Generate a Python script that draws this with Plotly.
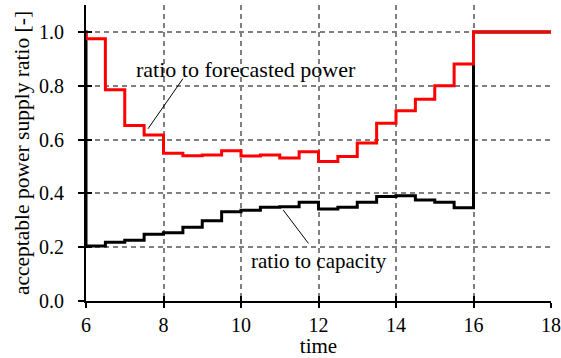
import plotly.graph_objects as go

# time in hours (half-hour steps); 5.5 holds the value before the period
time = [5.5, 6, 6.5, 7, 7.5, 8, 8.5, 9, 9.5, 10, 10.5, 11, 11.5, 12, 12.5,
        13, 13.5, 14, 14.5, 15, 15.5, 16, 18]
ratio_forecast = [1.0, 0.975, 0.785, 0.652, 0.617, 0.549, 0.540, 0.543, 0.558,
                  0.539, 0.543, 0.531, 0.555, 0.518, 0.537, 0.587, 0.661,
                  0.707, 0.750, 0.800, 0.881, 1.0, 1.0]
ratio_capacity = [1.0, 0.204, 0.218, 0.226, 0.248, 0.254, 0.274, 0.298, 0.332,
                  0.337, 0.348, 0.350, 0.367, 0.342, 0.348, 0.367, 0.388,
                  0.391, 0.375, 0.367, 0.347, 1.0, 1.0]
x_ticks = [6, 8, 10, 12, 14, 16, 18]
y_ticks = [0.0, 0.2, 0.4, 0.6, 0.8, 1.0]

FONT = "Liberation Serif"
tickfont = dict(family=FONT, size=20, color="black")
NB = "\u00a0\u00a0"  # pushes y tick labels away from the axis

fig = go.Figure()
fig.add_trace(go.Scatter(x=time, y=ratio_capacity, mode="lines",
                         line=dict(color="black", width=3, shape="hv"),
                         showlegend=False, cliponaxis=True))
fig.add_trace(go.Scatter(x=time, y=ratio_forecast, mode="lines",
                         line=dict(color="#ff0000", width=3, shape="hv"),
                         showlegend=False, cliponaxis=True))

grid = dict(showgrid=True, gridcolor="#808080", gridwidth=1.5, griddash="5px,4px")

fig.update_layout(
    width=561, height=358,
    margin=dict(l=86, r=10, t=5, b=57, autoexpand=False),
    paper_bgcolor="white", plot_bgcolor="white",
    font=dict(family=FONT, size=20, color="black"),
    xaxis=dict(range=[6, 18], tickvals=x_ticks, ticktext=[str(v) for v in x_ticks],
               showline=True, linecolor="black", linewidth=2, automargin=False,
               ticks="outside", ticklen=5, tickwidth=2, tickcolor="black",
               tickfont=tickfont, zeroline=False, **grid,
               title=dict(text="time", font=dict(family=FONT, size=21), standoff=2)),
    yaxis=dict(range=[0, 1.1], tickvals=y_ticks, ticktext=[f"{v:.1f}" + NB for v in y_ticks],
               showline=True, linecolor="black", linewidth=2, automargin=False,
               ticks="outside", ticklen=6, tickwidth=2, tickcolor="black",
               tickfont=tickfont, zeroline=False, **grid,
               title=dict(text="acceptable power supply ratio [-]",
                          font=dict(family=FONT, size=21.5), standoff=3)),
    xaxis2=dict(range=[6, 18], tickvals=x_ticks, overlaying="x", side="bottom",
                showticklabels=False, ticks="inside", ticklen=5, tickwidth=2, automargin=False,
                tickcolor="black", showgrid=False, zeroline=False, showline=False),
    yaxis2=dict(range=[0, 1.1], tickvals=y_ticks, overlaying="y", side="left",
                showticklabels=False, ticks="inside", ticklen=6, tickwidth=2, automargin=False,
                tickcolor="black", showgrid=False, zeroline=False, showline=False),
)
fig.add_trace(go.Scatter(x=[6], y=[0], xaxis="x2", yaxis="y2", mode="markers",
                         marker=dict(opacity=0), showlegend=False, hoverinfo="skip"))

fig.add_shape(type="line", x0=8.5, y0=0.826, x1=7.6, y1=0.640,
              line=dict(color="black", width=1))
fig.add_shape(type="line", x0=11.74, y0=0.214, x1=11.09, y1=0.338,
              line=dict(color="black", width=1))
fig.add_annotation(x=10.13, y=0.86, text="ratio to forecasted power", showarrow=False,
                   font=dict(family=FONT, size=22, color="black"),
                   xanchor="center", yanchor="middle")
fig.add_annotation(x=12.0, y=0.148, text="ratio to capacity", showarrow=False,
                   font=dict(family=FONT, size=21, color="black"),
                   xanchor="center", yanchor="middle")

fig.write_html("out.html")
